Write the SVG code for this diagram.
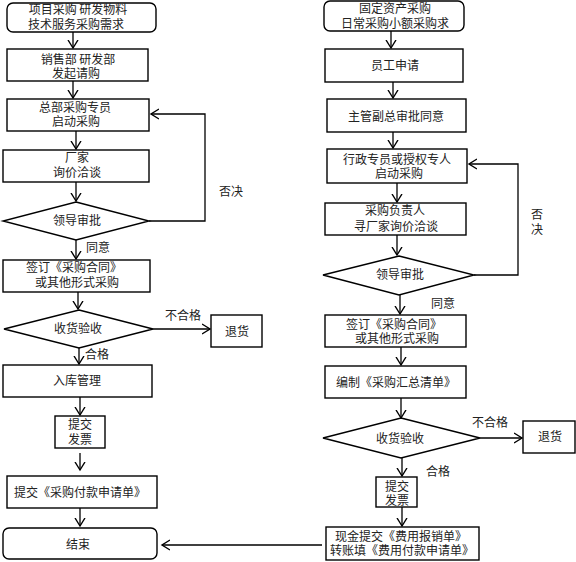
<svg xmlns="http://www.w3.org/2000/svg" width="576" height="562" viewBox="0 0 576 562">
<defs>
<marker id="arr" markerUnits="userSpaceOnUse" markerWidth="12" markerHeight="12" refX="8" refY="5" orient="auto" viewBox="0 0 12 10">
<path d="M0,0 L8,5 L0,10" fill="none" stroke="#000" stroke-width="1.4"/>
</marker>
</defs>
<style>
.b{fill:#fff;stroke:#000;stroke-width:1.4}
.c{fill:none;stroke:#000;stroke-width:1.3;marker-end:url(#arr)}
text{font-family:"Noto Sans CJK SC","Noto Sans",sans-serif;font-size:12px;fill:#222;text-anchor:middle}
</style>
<rect width="576" height="562" fill="#fff"/>
<g id="connectors">
<line class="c" x1="73" y1="32" x2="73" y2="48"/>
<line class="c" x1="73" y1="81" x2="73" y2="98"/>
<line class="c" x1="76" y1="131" x2="76" y2="149"/>
<line class="c" x1="76" y1="182" x2="76" y2="201"/>
<line class="c" x1="76" y1="240" x2="76" y2="259"/>
<line class="c" x1="78" y1="292" x2="78" y2="309"/>
<line class="c" x1="153" y1="329" x2="210" y2="329"/>
<line class="c" x1="79" y1="348" x2="79" y2="364"/>
<line class="c" x1="80" y1="397" x2="80" y2="415"/>
<line class="c" x1="80" y1="453" x2="80" y2="470"/>
<line class="c" x1="80" y1="508" x2="80" y2="526"/>
<polyline class="c" points="149,221 205,221 205,114 151,114"/>
<line class="c" x1="322" y1="545" x2="162" y2="545"/>
<line class="c" x1="391" y1="31" x2="391" y2="48"/>
<line class="c" x1="393" y1="82" x2="393" y2="98"/>
<line class="c" x1="393" y1="132" x2="393" y2="148"/>
<line class="c" x1="397" y1="183" x2="397" y2="202"/>
<line class="c" x1="397" y1="235" x2="397" y2="255"/>
<line class="c" x1="400" y1="295" x2="400" y2="314"/>
<line class="c" x1="401" y1="347" x2="401" y2="365"/>
<line class="c" x1="401" y1="398" x2="401" y2="418"/>
<line class="c" x1="480" y1="438" x2="522" y2="438"/>
<line class="c" x1="402" y1="458" x2="402" y2="476"/>
<line class="c" x1="402" y1="507" x2="402" y2="526"/>
<polyline class="c" points="474,275 518,275 518,164 469,164"/>
</g>
<g id="labels">
<text x="231" y="196">否决</text>
<text x="98" y="252">同意</text>
<text x="183" y="320">不合格</text>
<text x="97" y="359">合格</text>
<text x="537" y="219">否</text>
<text x="537" y="234">决</text>
<text x="443" y="308">同意</text>
<text x="490" y="427">不合格</text>
<text x="438" y="476">合格</text>
</g>
<g id="L1"><rect class="b" x="7" y="3" width="149" height="29" rx="6"/><text x="78" y="14">项目采购 研发物料</text><text x="76" y="28.5">技术服务采购需求</text></g>
<g id="L2"><rect class="b" x="7" y="49" width="141" height="32"/><text x="78" y="63.5">销售部 研发部</text><text x="76" y="78">发起请购</text></g>
<g id="L3"><rect class="b" x="7" y="99" width="142" height="32"/><text x="75" y="111.5">总部采购专员</text><text x="76" y="126">启动采购</text></g>
<g id="L4"><rect class="b" x="3" y="150" width="146" height="32"/><text x="77" y="162">厂家</text><text x="77" y="177">询价洽谈</text></g>
<g id="L5"><polygon class="b" points="76,202 149,221 76,240 3,221"/><text x="77" y="225">领导审批</text></g>
<g id="L6"><rect class="b" x="3" y="260" width="147" height="32"/><text x="74" y="272">签订《采购合同》</text><text x="77" y="287">或其他形式采购</text></g>
<g id="L7"><polygon class="b" points="79,310 153,329 79,348 4,329"/><text x="78" y="333">收货验收</text></g>
<g id="L8"><rect class="b" x="211" y="315" width="51" height="32"/><text x="237" y="336">退货</text></g>
<g id="L9"><rect class="b" x="3" y="365" width="149" height="32"/><text x="77" y="385">入库管理</text></g>
<g id="L10"><rect class="b" x="55" y="416" width="50" height="32"/><text x="80" y="429">提交</text><text x="80" y="444">发票</text></g>
<g id="L11"><rect class="b" x="7" y="476" width="150" height="32"/><text x="80" y="497">提交《采购付款申请单》</text></g>
<g id="L12"><rect class="b" x="3" y="528" width="154" height="31" rx="6"/><text x="78" y="549">结束</text></g>
<g id="R1"><rect class="b" x="324" y="1" width="140" height="30" rx="6"/><text x="395" y="13">固定资产采购</text><text x="395" y="27.5">日常采购小额采购求</text></g>
<g id="R2"><rect class="b" x="325" y="49" width="138" height="33"/><text x="395" y="70">员工申请</text></g>
<g id="R3"><rect class="b" x="327" y="99" width="139" height="33"/><text x="396" y="121">主管副总审批同意</text></g>
<g id="R4"><rect class="b" x="327" y="149" width="140" height="34"/><text x="397" y="163.5">行政专员或授权专人</text><text x="399" y="178">启动采购</text></g>
<g id="R5"><rect class="b" x="325" y="203" width="141" height="32"/><text x="395" y="215">采购负责人</text><text x="396" y="230.5">寻厂家询价洽谈</text></g>
<g id="R6"><polygon class="b" points="399,256 474,275 399,295 323,275"/><text x="400" y="279">领导审批</text></g>
<g id="R7"><rect class="b" x="325" y="315" width="141" height="32"/><text x="394" y="328.5">签订《采购合同》</text><text x="397" y="342.5">或其他形式采购</text></g>
<g id="R8"><rect class="b" x="325" y="366" width="141" height="32"/><text x="396" y="387">编制《采购汇总清单》</text></g>
<g id="R9"><polygon class="b" points="401,418 480,438 401,458 323,438"/><text x="400" y="443">收货验收</text></g>
<g id="R10"><rect class="b" x="523" y="421" width="52" height="32"/><text x="550" y="441">退货</text></g>
<g id="R11"><rect class="b" x="376" y="477" width="41" height="30"/><text x="397" y="490.5">提交</text><text x="397" y="504.5">发票</text></g>
<g id="R12"><rect class="b" x="326" y="527" width="153" height="33"/><text x="401" y="540.5">现金提交《费用报销单》</text><text x="402" y="555">转账填《费用付款申请单》</text></g>
</svg>
